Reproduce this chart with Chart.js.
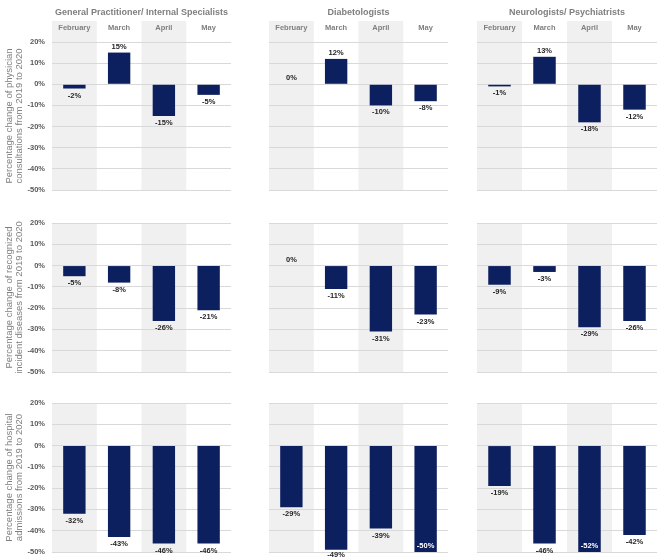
<!DOCTYPE html>
<html>
<head>
<meta charset="utf-8">
<script src="https://cdn.jsdelivr.net/npm/chart.js@4.4.1/dist/chart.umd.min.js"></script>
<style>
  html, body { margin: 0; padding: 0; background: #ffffff; }
  #wrap { position: relative; width: 666px; height: 559px; overflow: hidden; background: #fff; }
  canvas { position: absolute; }
</style>
</head>
<body>
<div id="wrap"></div>
<script>
// ---------- DATA ----------
const months = ['February', 'March', 'April', 'May'];
const panelTitles = ['General Practitioner/ Internal Specialists', 'Diabetologists', 'Neurologists/ Psychiatrists'];
const rowTitles = [
  ['Percentage change of physician', 'consultations from 2019 to 2020'],
  ['Percentage change of recognized', 'incident diseases from 2019 to 2020'],
  ['Percentage change of hospital', 'admissions from 2019 to 2020']
];
const yTicks = [20, 10, 0, -10, -20, -30, -40, -50];

const gpConsultations = [-2, 15, -15, -5];
const diabConsultations = [0, 12, -10, -8];
const neuroConsultations = [-1, 13, -18, -12];

const gpIncident = [-5, -8, -26, -21];
const diabIncident = [0, -11, -31, -23];
const neuroIncident = [-9, -3, -29, -26];

const gpHospital = [-32, -43, -46, -46];
const diabHospital = [-29, -49, -39, -50];
const neuroHospital = [-19, -46, -52, -42];

const grid = [
  [gpConsultations, diabConsultations, neuroConsultations],
  [gpIncident, diabIncident, neuroIncident],
  [gpHospital, diabHospital, neuroHospital]
];

// ---------- LAYOUT ----------
const FONT = "'Liberation Sans', Arial, sans-serif";
const BAR = '#0c1f5e';
const SHADE = '#f0f0f0';
const GRID = '#d9d9d9';

const cols = [ {l: 52, r: 231}, {l: 269, r: 448}, {l: 477, r: 657} ];
const rows = [
  {top: 0,   height: 200, padTop: 0,  padBottom: 10},
  {top: 208, height: 174, padTop: 15, padBottom: 10},
  {top: 388, height: 171, padTop: 15, padBottom: 7}
];

const shadePlugin = {
  id: 'shade',
  beforeDraw(chart, args, opts) {
    const xs = chart.scales.x, area = chart.chartArea, ctx = chart.ctx;
    const w = (area.right - area.left) / chart.data.labels.length;
    const top = opts.fromAxis ? xs.top : area.top;
    ctx.save();
    ctx.fillStyle = SHADE;
    chart.data.labels.forEach((lab, i) => {
      if (i % 2 === 0) {
        const cx = xs.getPixelForValue(i);
        ctx.fillRect(cx - w / 2, top, w, area.bottom - top);
      }
    });
    ctx.restore();
  }
};

const labelPlugin = {
  id: 'barLabels',
  afterDatasetsDraw(chart) {
    const ctx = chart.ctx, area = chart.chartArea;
    const meta = chart.getDatasetMeta(0);
    const data = chart.data.datasets[0].data;
    ctx.save();
    ctx.font = 'bold 7.5px ' + FONT;
    ctx.textAlign = 'center';
    ctx.textBaseline = 'middle';
    meta.data.forEach((bar, i) => {
      const v = data[i];
      let y, color = '#262626';
      if (v <= -50) { y = area.bottom - 6; color = '#ffffff'; }
      else if (v >= 0) { y = bar.y - 6; }
      else { y = Math.min(bar.y + 7, chart.height - 4); }
      ctx.fillStyle = color;
      ctx.fillText(v + '%', bar.x, y);
    });
    ctx.restore();
  }
};

const wrap = document.getElementById('wrap');

grid.forEach((rowData, r) => {
  rowData.forEach((values, c) => {
    const col = cols[c], row = rows[r];
    const canvas = document.createElement('canvas');
    let left, width, yWidth;
    if (c === 0) { left = 0; width = col.r + 2; yWidth = col.l; }
    else { left = col.l - 2; width = col.r - col.l + 4; yWidth = 0; }
    canvas.width = width; canvas.height = row.height;
    canvas.style.left = left + 'px'; canvas.style.top = row.top + 'px';
    canvas.style.width = width + 'px'; canvas.style.height = row.height + 'px';
    wrap.appendChild(canvas);

    new Chart(canvas.getContext('2d'), {
      type: 'bar',
      data: {
        labels: months,
        datasets: [{
          data: values,
          backgroundColor: BAR,
          borderWidth: 0,
          categoryPercentage: 1.0,
          barPercentage: 0.5
        }]
      },
      options: {
        responsive: false,
        animation: false,
        devicePixelRatio: 1,
        layout: { padding: { top: row.padTop, bottom: row.padBottom, left: c === 0 ? 0 : 2, right: 2 } },
        plugins: {
          legend: { display: false },
          tooltip: { enabled: false },
          title: {
            display: r === 0,
            text: panelTitles[c],
            fullSize: false,
            color: '#7f7f7f',
            font: { family: FONT, size: 9, weight: 'bold', lineHeight: 1.2 },
            padding: { top: 7.6, bottom: 2.6 }
          },
          shade: { fromAxis: r === 0 }
        },
        scales: {
          x: {
            display: r === 0,
            position: 'top',
            grid: { display: false, drawTicks: false },
            border: { display: false },
            ticks: {
              color: '#7f7f7f',
              font: { family: FONT, size: 7.5, weight: 'bold', lineHeight: 1.2 },
              padding: 9.5,
              maxRotation: 0
            },
            afterFit(s) { if (r === 0) { s.height = 21; } s.paddingLeft = 0; s.paddingRight = 0; }
          },
          y: {
            min: -50,
            max: 20,
            afterBuildTicks(s) { s.ticks = yTicks.map(v => ({ value: v })); },
            grid: { color: GRID, lineWidth: 1, drawTicks: false },
            border: { display: false },
            ticks: {
              display: c === 0,
              color: '#595959',
              font: { family: FONT, size: 7.5, weight: 'bold' },
              padding: 7,
              callback: v => v + '%'
            },
            title: {
              display: c === 0,
              text: rowTitles[r],
              color: '#7f7f7f',
              font: { family: FONT, size: 9.5, lineHeight: 1.05 },
              padding: { top: 4.5, bottom: 0 }
            },
            afterFit(s) { s.width = yWidth; s.paddingTop = 0; s.paddingBottom = 0; }
          }
        }
      },
      plugins: [shadePlugin, labelPlugin]
    });
  });
});
</script>
</body>
</html>
